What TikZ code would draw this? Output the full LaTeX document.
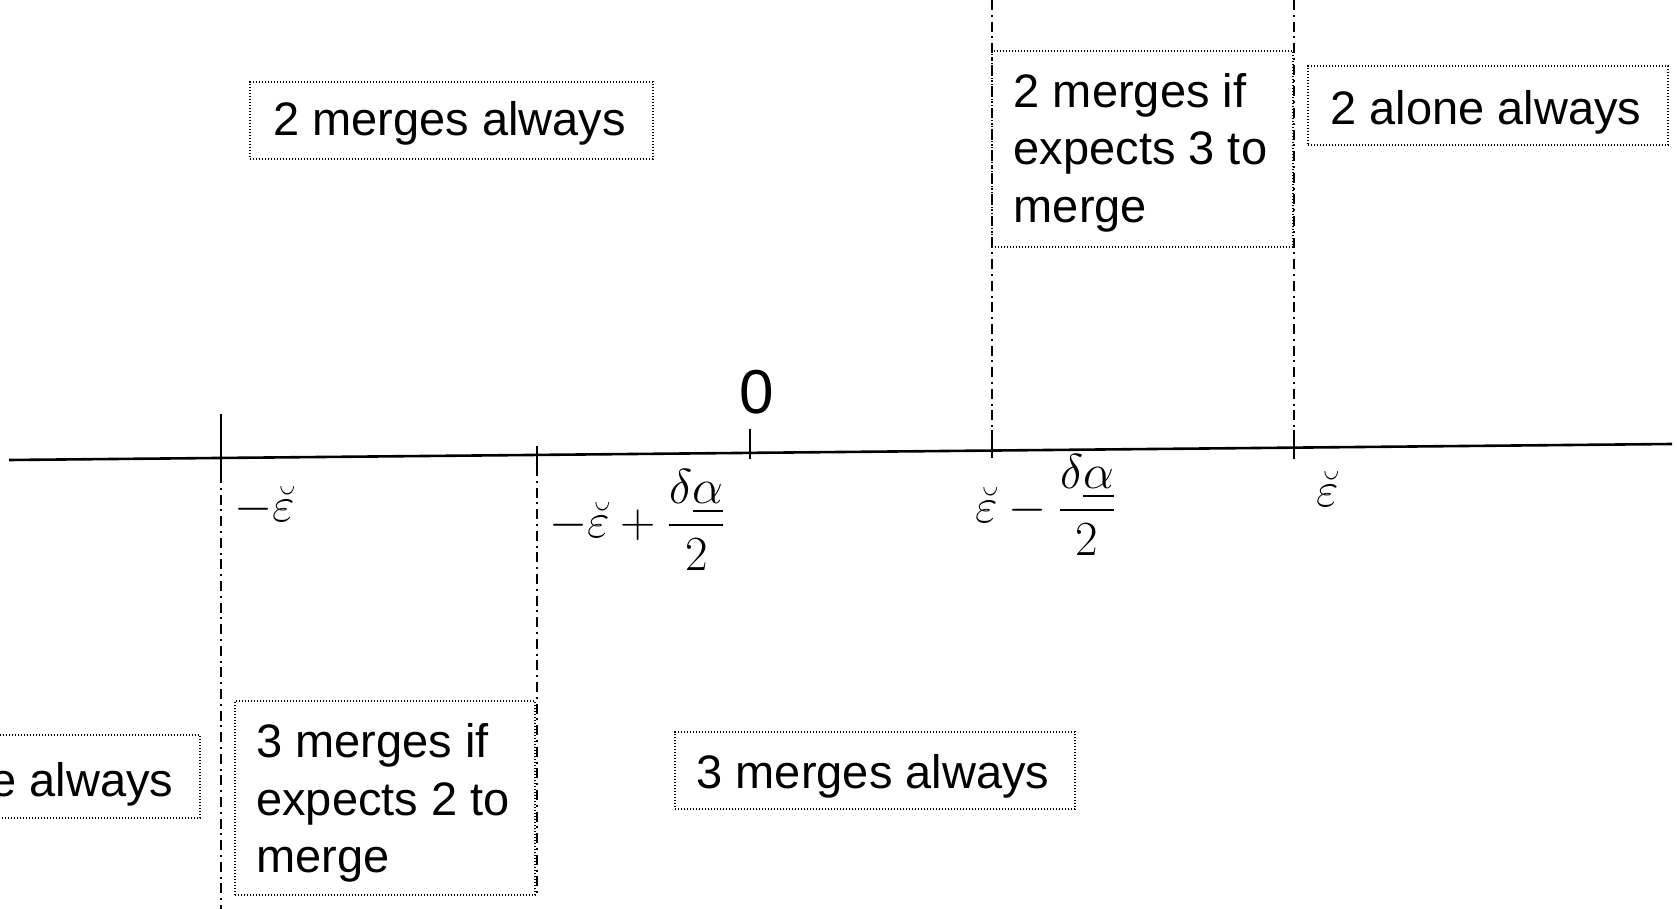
\RequirePackage{fix-cm}
\documentclass[tikz,border=0pt]{standalone}
\usepackage{amsmath}
\usepackage{fontspec}
\newfontfamily\arialfont{Liberation Sans}
\begin{document}
\begin{tikzpicture}[x=0.5pt, y=-0.5pt,
  regionbox/.style={draw, line width=0.7pt, dash pattern=on 0.6pt off 0.9pt, inner sep=0pt, align=left,
    font=\arialfont\fontsize{23.5}{28.6}\selectfont,
    execute at begin node={\rule{0pt}{#1}},
    execute at end node={\rule[-5pt]{0pt}{5pt}\hspace*{2pt}}},
  regionbox/.default=24pt,
  bound/.style={line width=0.8pt, dash pattern=on 5pt off 2.4pt on 1pt off 2.4pt},
  axtick/.style={line width=1pt},
  mathlab/.style={anchor=base west, inner sep=0pt, font=\fontsize{24.5}{29}\selectfont}]
  \useasboundingbox (0,0) rectangle (1677,909);
  \clip (0,0) rectangle (1677,909);
  % axis
  \coordinate (axL) at (9,460);
  \coordinate (axR) at (1672,444);
  \draw[line width=1.3pt] (axL) -- (axR);
  \foreach \x/\a/\b in {221/414/473, 537/446/466, 750/429/459, 992/430/458, 1294/430/459}
    \draw[axtick] (\x,\a) -- (\x,\b);
  \foreach \x/\a/\b in {221/473/909, 537/466/893, 992/0/430, 1294/0/430}
    \draw[bound] (\x,\a) -- (\x,\b);
  % labels on the axis
  \node[font=\arialfont\fontsize{31}{37}\selectfont, inner sep=0pt] (zero) at (757,392) {0};
  \node[mathlab] (mepsL) at (234,521) {$-\breve{\varepsilon}$};
  \node[mathlab] (mepsLd) at (549,537) {$-\breve{\varepsilon}+\dfrac{\delta\underline{\alpha}}{2}$};
  \node[mathlab] (mepsRd) at (975,522) {$\breve{\varepsilon}-\dfrac{\delta\underline{\alpha}}{2}$};
  \node[mathlab] (mepsR) at (1316,506) {$\breve{\varepsilon}$};
  % regions
  \node[regionbox=20.5pt, minimum width=201.5pt, minimum height=38.5pt] (m2always) at (451.5,120.5) {2 merges always};
  \node[regionbox, minimum width=150.5pt, minimum height=98pt] (m2if) at (1142.5,149) {\rule{0pt}{21pt}2 merges if\\expects 3 to\\merge};
  \node[regionbox=24.5pt, minimum width=180pt, minimum height=39.5pt] (a2always) at (1488,105.5) {2 alone always};
  \node[regionbox=25pt, minimum width=180pt, minimum height=41.5pt] (a3always) at (20,776.5) {3 alone always};
  \node[regionbox, minimum width=150pt, minimum height=97pt] (m3if) at (385,798) {\rule{0pt}{22pt}3 merges if\\expects 2 to\\merge};
  \node[regionbox=22.5pt, minimum width=200pt, minimum height=38.5pt] (m3always) at (875,770.5) {3 merges always};
\end{tikzpicture}
\end{document}
